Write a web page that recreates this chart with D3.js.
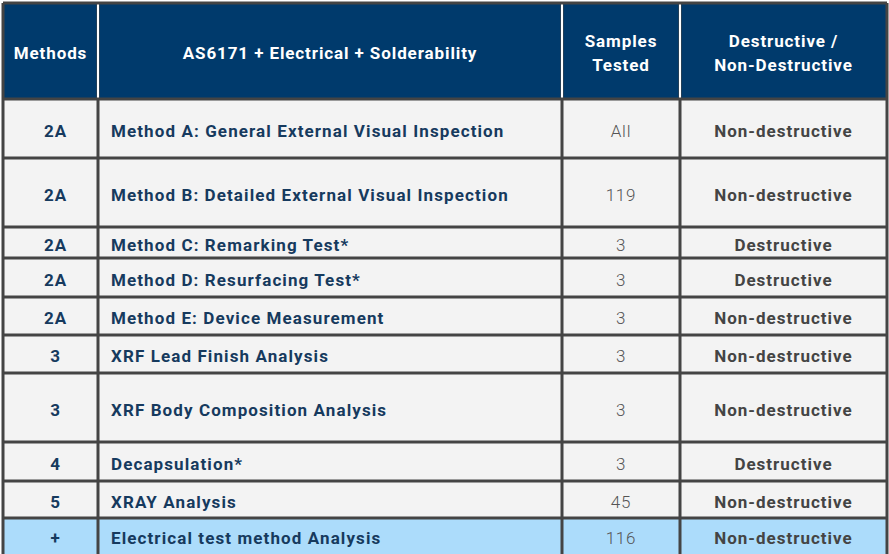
<!DOCTYPE html>
<html><head><meta charset="utf-8">
<script src="https://cdn.jsdelivr.net/npm/d3@7"></script>
<style>body{margin:0;background:#fff}</style>
</head><body>
<div id="chart-area"></div>
<script>
var width = 889, height = 554;

// table data
const headers = ["Methods", "AS6171 + Electrical + Solderability", "Samples\nTested", "Destructive /\nNon-Destructive"];
const methods = ["2A","2A","2A","2A","2A","3","3","4","5","+"];
const names = ["Method A: General External Visual Inspection","Method B: Detailed External Visual Inspection",
  "Method C: Remarking Test*","Method D: Resurfacing Test*","Method E: Device Measurement",
  "XRF Lead Finish Analysis","XRF Body Composition Analysis","Decapsulation*","XRAY Analysis",
  "Electrical test method Analysis"];
const samples = ["All","119","3","3","3","3","3","3","45","116"];
const destructive = ["Non-destructive","Non-destructive","Destructive","Destructive","Non-destructive",
  "Non-destructive","Non-destructive","Destructive","Non-destructive","Non-destructive"];

// layout
const rowLines = [3, 99, 158, 227, 258, 297, 335, 373, 442, 481, 518, 560];
const colLines = [3, 98, 562, 680, 887];

const svg = d3.select("#chart-area").append("svg").attr("width", width).attr("height", height)
  .style("font-family", "Roboto, 'Noto Sans', sans-serif");

const rows = methods.map((m, i) => ({m, name: names[i], s: samples[i], d: destructive[i], y0: rowLines[i+1], y1: rowLines[i+2], last: i === methods.length - 1}));

// header
svg.append("rect").attr("x", colLines[0]).attr("y", rowLines[0]).attr("width", colLines[4]-colLines[0])
  .attr("height", rowLines[1]-rowLines[0]).attr("fill", "#003a6c");
headers.forEach((h, j) => {
  const cx = (colLines[j] + colLines[j+1]) / 2 + (j === 0 ? 0 : 0), lines = h.split("\n");
  const t = svg.append("text").attr("x", cx).attr("y", 53 - (lines.length - 1) * 12)
    .attr("text-anchor", "middle").attr("dominant-baseline", "central")
    .attr("fill", "#fff").attr("font-weight", 700).attr("font-size", 17).attr("letter-spacing", 0.9);
  lines.forEach((l, k) => t.append("tspan").attr("x", cx).attr("dy", k ? 24 : 0).text(l));
});

// body rows
const g = svg.selectAll("g.row").data(rows).join("g").attr("class", "row");
g.append("rect").attr("x", colLines[0]).attr("y", d => d.y0).attr("width", colLines[4]-colLines[0])
  .attr("height", d => d.y1 - d.y0).attr("fill", d => d.last ? "#acdcfb" : "#f3f3f3");
const cy = d => (d.y0 + Math.min(d.y1, height)) / 2 + 2;
g.append("text").attr("x", (colLines[0]+colLines[1])/2 + 5).attr("y", cy).attr("text-anchor", "middle")
  .attr("dominant-baseline", "central").attr("fill", "#163a5e").attr("font-weight", 700).attr("font-size", 17)
  .attr("letter-spacing", 0.9).text(d => d.m);
g.append("text").attr("x", colLines[1] + 13).attr("y", cy)
  .attr("dominant-baseline", "central").attr("fill", "#163a5e").attr("font-weight", 700).attr("font-size", 17)
  .attr("letter-spacing", 1.1).text(d => d.name);
g.append("text").attr("x", (colLines[2]+colLines[3])/2).attr("y", cy).attr("text-anchor", "middle")
  .attr("dominant-baseline", "central").attr("fill", "#555").attr("font-weight", 300).attr("font-size", 17)
  .attr("letter-spacing", 0.8).text(d => d.s);
g.append("text").attr("x", (colLines[3]+colLines[4])/2).attr("y", cy).attr("text-anchor", "middle")
  .attr("dominant-baseline", "central").attr("fill", "#444").attr("font-weight", 700).attr("font-size", 17)
  .attr("letter-spacing", 1.0).text(d => d.d);

// grid lines
const lineColor = "#444";
svg.selectAll("line.h").data(rowLines.slice(0, -1)).join("line").attr("class", "h")
  .attr("x1", colLines[0]).attr("x2", colLines[4]).attr("y1", d => d).attr("y2", d => d)
  .attr("stroke", lineColor).attr("stroke-width", 3);
svg.selectAll("line.v").data(colLines).join("line").attr("class", "v")
  .attr("x1", d => d).attr("x2", d => d).attr("y1", rowLines[0]).attr("y2", height)
  .attr("stroke", lineColor).attr("stroke-width", 3);
// white separators inside header
svg.selectAll("line.hv").data(colLines.slice(1, -1)).join("line").attr("class", "hv")
  .attr("x1", d => d).attr("x2", d => d).attr("y1", rowLines[0] + 1.5).attr("y2", rowLines[1] - 1.5)
  .attr("stroke", "#fff").attr("stroke-width", 2);
</script>
</body></html>
